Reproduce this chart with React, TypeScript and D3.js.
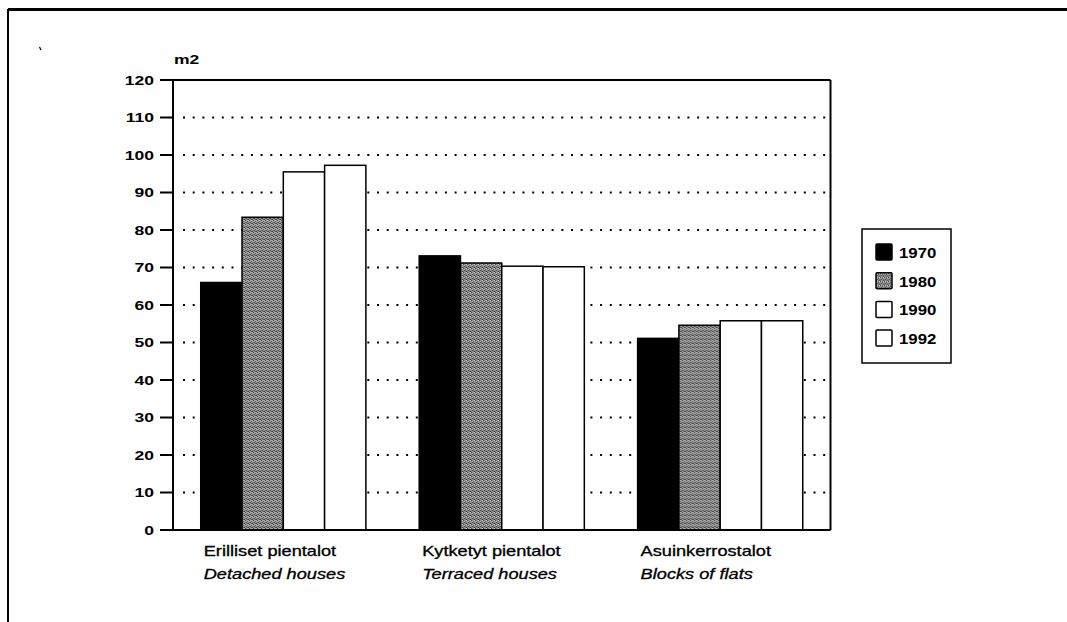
import React from "react";
import * as d3 from "d3";

const categoriesFi = ["Erilliset pientalot", "Kytketyt pientalot", "Asuinkerrostalot"];
const categoriesEn = ["Detached houses", "Terraced houses", "Blocks of flats"];
const years = ["1970", "1980", "1990", "1992"];
const values1970 = [66, 73.1, 51.1];
const values1980 = [83.4, 71.2, 54.6];
const values1990 = [95.5, 70.35, 55.8];
const values1992 = [97.25, 70.2, 55.8];
const yTicks = [0, 10, 20, 30, 40, 50, 60, 70, 80, 90, 100, 110, 120];
const yUnit = "m2";

const seriesValues = [values1970, values1980, values1990, values1992];
const fills = ["#000", "url(#halftone)", "#fff", "#fff"];

const W = 1067;
const H = 622;
const SX = 1.3; // horizontal stretch of the scanned text
const FONT = "'Liberation Sans', Arial, Helvetica, sans-serif";

export default function App() {
  const x0 = d3.scaleBand<number>().domain([0, 1, 2]).range([173, 830.5]).paddingInner(0.244).paddingOuter(0.127);
  const x1 = d3.scaleBand<number>().domain([0, 1, 2, 3]).range([0, x0.bandwidth()]).padding(0);
  const y = d3.scaleLinear().domain([0, 120]).range([530, 80]);

  const left = 173;
  const right = 830.5;

  return (
    <svg width={W} height={H} style={{ position: "absolute", left: 0, top: 0, background: "#fff" }}>
      <defs>
        <pattern id="halftone" width="4" height="4" patternUnits="userSpaceOnUse">
          <rect width="4" height="4" fill="#9c9c9c" />
          <rect x="0" y="0" width="1" height="1" fill="#222" />
          <rect x="2" y="1" width="1" height="1" fill="#444" />
          <rect x="1" y="2" width="1" height="1" fill="#333" />
          <rect x="3" y="3" width="1" height="1" fill="#222" />
          <rect x="2" y="3" width="1" height="1" fill="#666" />
          <rect x="0" y="2" width="1" height="1" fill="#777" />
          <rect x="3" y="0" width="1" height="1" fill="#ddd" />
          <rect x="1" y="1" width="1" height="1" fill="#ccc" />
        </pattern>
      </defs>

      {/* outer frame */}
      <line x1={8} x2={W} y1={9.5} y2={9.5} stroke="#000" strokeWidth={3} />
      <line x1={8} x2={8} y1={9} y2={H} stroke="#000" strokeWidth={2} />
      <line x1={39.5} y1={47} x2={41} y2={50} stroke="#000" strokeWidth={1.2} />

      {/* dotted gridlines */}
      {yTicks.filter((t) => t > 0 && t < 120).map((t) => (
        <line key={"g" + t} x1={183} x2={right - 2} y1={y(t)} y2={y(t)} stroke="#000" strokeWidth={2} strokeDasharray="2 7.7" />
      ))}

      {/* bars */}
      {categoriesFi.map((c, ci) => (
        <g key={c} transform={`translate(${x0(ci)},0)`}>
          {seriesValues.map((vals, si) => (
            <rect
              key={si}
              x={x1(si)}
              y={y(vals[ci])}
              width={x1.bandwidth()}
              height={y(0) - y(vals[ci])}
              fill={fills[si]}
              stroke="#000"
              strokeWidth={1.5}
            />
          ))}
        </g>
      ))}

      {/* plot frame */}
      <line x1={left} x2={right} y1={y(120)} y2={y(120)} stroke="#000" strokeWidth={2} />
      <line x1={right} x2={right} y1={y(120)} y2={y(0)} stroke="#000" strokeWidth={2} />
      <line x1={left} x2={right} y1={y(0)} y2={y(0)} stroke="#000" strokeWidth={2} />
      <line x1={left} x2={left} y1={y(120)} y2={y(0)} stroke="#000" strokeWidth={2} />

      {/* y ticks */}
      {yTicks.map((t) => (
        <g key={"t" + t}>
          <line x1={160} x2={left} y1={y(t)} y2={y(t)} stroke="#000" strokeWidth={2} />
          <text
            transform={`translate(154,${y(t) + 4.8}) scale(${SX},1)`}
            textAnchor="end"
            fontFamily={FONT}
            fontSize={13.5}
            fontWeight="bold"
            fill="#000"
          >
            {t}
          </text>
        </g>
      ))}
      <text transform={`translate(174,64) scale(${SX},1)`} fontFamily={FONT} fontSize={13.5} fontWeight="bold" fill="#000">
        {yUnit}
      </text>

      {/* category labels */}
      {categoriesFi.map((c, ci) => (
        <g key={"l" + c}>
          <text transform={`translate(${(x0(ci) as number) + 3},556) scale(${SX},1)`} fontFamily={FONT} fontSize={14} fill="#000" stroke="#000" strokeWidth={0.3}>
            {c}
          </text>
          <text transform={`translate(${(x0(ci) as number) + 3},579) scale(${SX},1)`} fontFamily={FONT} fontSize={14} fontStyle="italic" fill="#000" stroke="#000" strokeWidth={0.3}>
            {categoriesEn[ci]}
          </text>
        </g>
      ))}

      {/* legend */}
      <rect x={862} y={229} width={89} height={134} fill="#fff" stroke="#000" strokeWidth={1.5} />
      {years.map((yr, i) => (
        <g key={yr} transform={`translate(876,${244 + i * 28.7})`}>
          <rect x={0} y={0} width={16} height={16} fill={fills[i]} stroke="#000" strokeWidth={1.5} rx={1} />
          <text transform={`translate(23,14) scale(1.2,1)`} fontFamily={FONT} fontSize={14} fontWeight="bold" fill="#000">
            {yr}
          </text>
        </g>
      ))}
    </svg>
  );
}
